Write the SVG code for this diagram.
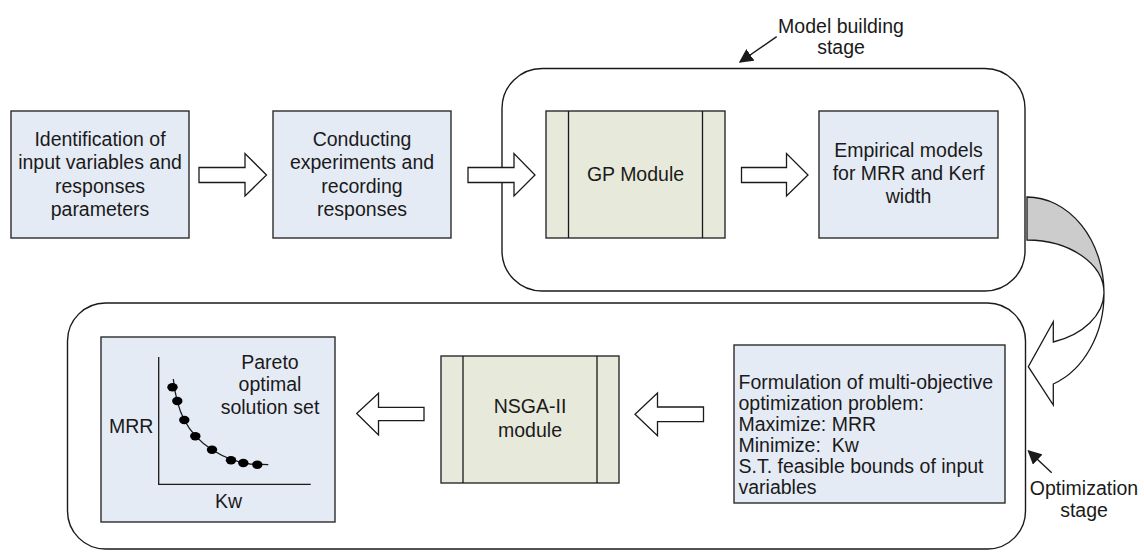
<svg xmlns="http://www.w3.org/2000/svg" width="1144" height="553" viewBox="0 0 1144 553">
  <defs>
    <style>
      .t { font-family: "Liberation Sans", Arial, sans-serif; font-size: 19.5px; fill: #1a1a1a; }
      .c { text-anchor: middle; }
      .box { fill: #e5ebf5; stroke: #2b2b2b; stroke-width: 1.4; }
      .mod { fill: #e7e9db; stroke: #2b2b2b; stroke-width: 1.4; }
      .stage { fill: #ffffff; stroke: #1a1a1a; stroke-width: 1.4; }
      .blk { fill: #ffffff; stroke: #1a1a1a; stroke-width: 1.3; stroke-linejoin: miter; }
      .ln { fill: none; stroke: #1a1a1a; stroke-width: 1.3; }
      .ptr { fill: none; stroke: #1a1a1a; stroke-width: 1.4; }
    </style>
    <marker id="head" viewBox="0 0 10 10" refX="9" refY="5" markerWidth="14" markerHeight="14" markerUnits="userSpaceOnUse" orient="auto">
      <path d="M0,0 L10,5 L0,10 z" fill="#1a1a1a"/>
    </marker>
  </defs>

  <!-- stage containers -->
  <g id="model-stage">
    <rect class="stage" x="502" y="68.5" width="523" height="222.5" rx="40" ry="40"/>
  </g>
  <g id="optimization-stage">
    <rect class="stage" x="67.5" y="303" width="958" height="246" rx="38" ry="38"/>
  </g>

  <!-- process nodes -->
  <g id="identification">
    <rect class="box" x="11" y="111" width="178" height="127"/>
    <text class="t c" x="100" y="146">Identification of</text>
    <text class="t c" x="100" y="169.3">input variables and</text>
    <text class="t c" x="100" y="192.6">responses</text>
    <text class="t c" x="100" y="216">parameters</text>
  </g>

  <g id="experiments">
    <rect class="box" x="273" y="111" width="178" height="127"/>
    <text class="t c" x="362" y="146">Conducting</text>
    <text class="t c" x="362" y="169.3">experiments and</text>
    <text class="t c" x="362" y="192.6">recording</text>
    <text class="t c" x="362" y="216">responses</text>
  </g>

  <g id="gp-module">
    <rect class="mod" x="546" y="111" width="179" height="127"/>
    <line class="ln" x1="568.5" y1="111" x2="568.5" y2="238"/>
    <line class="ln" x1="702.5" y1="111" x2="702.5" y2="238"/>
    <text class="t c" x="635.5" y="181">GP Module</text>
  </g>

  <g id="empirical-models">
    <rect class="box" x="819" y="111" width="179" height="127"/>
    <text class="t c" x="908.5" y="157">Empirical models</text>
    <text class="t c" x="908.5" y="180">for MRR and Kerf</text>
    <text class="t c" x="908.5" y="203">width</text>
  </g>

  <g id="formulation">
    <rect class="box" x="734" y="345" width="271" height="158"/>
    <text class="t" x="738.5" y="389">Formulation of multi-objective</text>
    <text class="t" x="738.5" y="410">optimization problem:</text>
    <text class="t" x="738.5" y="431">Maximize: MRR</text>
    <text class="t" x="738.5" y="452" xml:space="preserve">Minimize:  Kw</text>
    <text class="t" x="738.5" y="473">S.T. feasible bounds of input</text>
    <text class="t" x="738.5" y="494">variables</text>
  </g>

  <g id="nsga-module">
    <rect class="mod" x="441" y="356" width="178" height="127"/>
    <line class="ln" x1="463" y1="356" x2="463" y2="483"/>
    <line class="ln" x1="597" y1="356" x2="597" y2="483"/>
    <text class="t c" x="530" y="413">NSGA-II</text>
    <text class="t c" x="530" y="436.5">module</text>
  </g>

  <g id="pareto-set">
    <rect class="box" x="101" y="337" width="234" height="185"/>
    <!-- axes -->
    <path class="ln" d="M158.7,357 L158.7,484.3 L310.7,484.3"/>
    <!-- front curve -->
    <path class="ln" d="M173.3,379 C175,395 178,408 184.3,420 C190,431 200,442 212,449.7 C222,456 235,462 250,464 L268.3,464.7"/>
    <g fill="#000">
      <ellipse cx="172.5" cy="387.3" rx="5.2" ry="4.2"/>
      <ellipse cx="177.3" cy="401" rx="5.2" ry="4.2"/>
      <ellipse cx="184.3" cy="420" rx="5.2" ry="4.2"/>
      <ellipse cx="195.3" cy="436.3" rx="5.2" ry="4.2"/>
      <ellipse cx="212" cy="449.7" rx="5.2" ry="4.2"/>
      <ellipse cx="231" cy="460.3" rx="5.2" ry="4.2"/>
      <ellipse cx="243.3" cy="463" rx="5.2" ry="4.2"/>
      <ellipse cx="257.3" cy="464.7" rx="5.2" ry="4.2"/>
    </g>
    <text class="t" x="109" y="433">MRR</text>
    <text class="t c" x="228.5" y="508">Kw</text>
    <text class="t c" x="270" y="368.5">Pareto</text>
    <text class="t c" x="270" y="391">optimal</text>
    <text class="t c" x="270" y="413.5">solution set</text>
  </g>

  <!-- stage labels -->
  <g id="model-stage-label">
    <text class="t c" x="841" y="33">Model building</text>
    <text class="t c" x="841" y="54">stage</text>
  </g>
  <g id="optimization-stage-label">
    <text class="t c" x="1084" y="495">Optimization</text>
    <text class="t c" x="1084" y="517">stage</text>
  </g>

  <!-- connectors -->
  <g id="connectors">
    <!-- block arrows between steps -->
    <path class="blk" d="M199,167.5 L245,167.5 L245,153.5 L266.5,175 L245,196 L245,182.5 L199,182.5 Z"/>
    <path class="blk" d="M468,167.5 L514,167.5 L514,153.5 L535,175 L514,196 L514,182.5 L468,182.5 Z"/>
    <path class="blk" d="M741.5,167.5 L786.5,167.5 L786.5,153.5 L808,175 L786.5,196 L786.5,182.5 L741.5,182.5 Z"/>
    <path class="blk" d="M703.5,407 L657.5,407 L657.5,393 L635,414.3 L657.5,435.7 L657.5,421.7 L703.5,421.7 Z"/>
    <path class="blk" d="M424,407.3 L378.5,407.3 L378.5,393.3 L356.7,413.5 L378.5,435 L378.5,420.7 L424,420.7 Z"/>

    <!-- curved arrow from the model stage into the optimization stage -->
    <path d="M1027,197 A77,96 0 0 1 1104,293 A77,53 0 0 0 1027,240 Z" fill="#cccccc" stroke="#1a1a1a" stroke-width="1.3"/>
    <path class="blk" d="M1104,293 A77,96 0 0 1 1053.3,384 L1053.3,405 L1028.3,366.7 L1053.3,321.7 L1053.3,342 A77,53 0 0 0 1104,293 Z"/>

    <!-- stage pointers -->
    <line class="ptr" x1="776.7" y1="36.7" x2="740" y2="62" marker-end="url(#head)"/>
    <line class="ptr" x1="1051.7" y1="472.7" x2="1028.5" y2="451" marker-end="url(#head)"/>
  </g>
</svg>
